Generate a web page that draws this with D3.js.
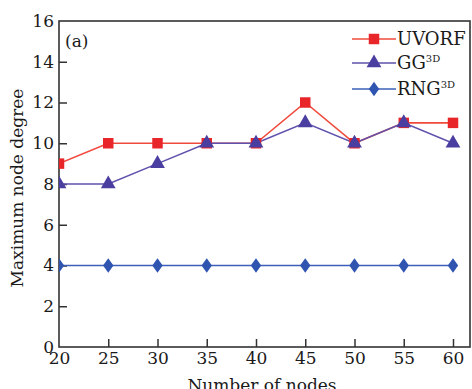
<!DOCTYPE html>
<html>
<head>
<meta charset="utf-8">
<script src="https://cdn.jsdelivr.net/npm/d3@7"></script>
<style>
  body { margin: 0; background: #fff; }
  svg { display: block; }
  text { font-family: "DejaVu Serif", "Liberation Serif", serif; fill: #1a1a1a; }
</style>
</head>
<body>
<svg id="chart" width="472" height="389"></svg>
<script>
// dados
const nodes = [20, 25, 30, 35, 40, 45, 50, 55, 60];
const uvorf = [9, 10, 10, 10, 10, 12, 10, 11, 11];
const gg3d = [8, 8, 9, 10, 10, 11, 10, 11, 10];
const rng3d = [4, 4, 4, 4, 4, 4, 4, 4, 4];
const yTicks = [0, 2, 4, 6, 8, 10, 12, 14, 16];

const series = [
  { name: "UVORF", sup: "", values: uvorf, line: "#f04a3c", fill: "#e8262a", shape: d3.symbolSquare, size: 110 },
  { name: "GG", sup: "3D", values: gg3d, line: "#5e52ad", fill: "#4a3ea0", shape: d3.symbolTriangle, size: 95 },
  { name: "RNG", sup: "3D", values: rng3d, line: "#3d5fba", fill: "#2f55b0", shape: d3.symbolDiamond, size: 60 }
];

const svg = d3.select("#chart");
const mLeft = 59, mRight = 470, mTop = 21, mBottom = 347;

const x = d3.scaleLinear().domain([20, 60]).range([mLeft, 453]);
const y = d3.scaleLinear().domain([0, 16]).range([mBottom, mTop]);

svg.append("clipPath").attr("id", "clip")
  .append("rect").attr("x", mLeft).attr("y", mTop)
  .attr("width", mRight - mLeft).attr("height", mBottom - mTop);

// eixos com ticks para dentro
const gx = svg.append("g").attr("transform", `translate(0,${mBottom})`)
  .call(d3.axisBottom(x).tickValues(nodes).tickSizeInner(-8).tickSizeOuter(0).tickPadding(3));
const gy = svg.append("g").attr("transform", `translate(${mLeft},0)`)
  .call(d3.axisLeft(y).tickValues(yTicks).tickSizeInner(-8).tickSizeOuter(0).tickPadding(5));

[gx, gy].forEach(g => {
  g.select(".domain").remove();
  g.selectAll("line").attr("stroke", "#333").attr("stroke-width", 1.5);
  g.selectAll("text").style("font-size", "17px").attr("fill", "#1a1a1a");
});
gx.selectAll("text").attr("dy", "0.85em");
gx.selectAll(".tick").filter(d => d === 20).select("line").remove();
gy.selectAll(".tick").filter(d => d === 0 || d === 16).select("line").remove();

// moldura
svg.append("rect")
  .attr("x", mLeft).attr("y", mTop)
  .attr("width", mRight - mLeft).attr("height", mBottom - mTop)
  .attr("fill", "none").attr("stroke", "#333").attr("stroke-width", 1.6);

const plot = svg.append("g").attr("clip-path", "url(#clip)");
const line = d3.line().x((d, i) => x(nodes[i])).y(d => y(d));

series.forEach(s => {
  plot.append("path").datum(s.values)
    .attr("d", line).attr("fill", "none")
    .attr("stroke", s.line).attr("stroke-width", 1.6);
});
series.forEach(s => {
  plot.selectAll(null).data(s.values).enter().append("path")
    .attr("transform", (d, i) => `translate(${x(nodes[i])},${y(d)})` + (s.shape === d3.symbolDiamond ? " scale(1.25,1)" : ""))
    .attr("d", d3.symbol().type(s.shape).size(s.size))
    .attr("fill", s.fill);
});

// legenda
const legY = [39, 63, 89];
series.forEach((s, i) => {
  const g = svg.append("g").attr("transform", `translate(0,${legY[i]})`);
  g.append("line").attr("x1", 352).attr("x2", 396)
    .attr("stroke", s.line).attr("stroke-width", 1.6);
  g.append("path").attr("transform", "translate(374,0)" + (s.shape === d3.symbolDiamond ? " scale(1.25,1)" : ""))
    .attr("d", d3.symbol().type(s.shape).size(s.size)).attr("fill", s.fill);
  const t = g.append("text").attr("x", 397).attr("y", 6).style("font-size", "18px");
  t.append("tspan").text(s.name);
  if (s.sup) t.append("tspan").attr("dy", -7).style("font-size", "10px").text(s.sup);
});

svg.append("text").attr("x", 65).attr("y", 47).style("font-size", "17px").text("(a)");

svg.append("text").attr("x", (mLeft + 453) / 2 + 6).attr("y", 391)
  .attr("text-anchor", "middle").style("font-size", "17px").text("Number of nodes");

svg.append("text")
  .attr("transform", `translate(23,${(mTop + mBottom) / 2 + 4}) rotate(-90)`)
  .attr("text-anchor", "middle").style("font-size", "17px").text("Maximum node degree");
</script>
</body>
</html>
